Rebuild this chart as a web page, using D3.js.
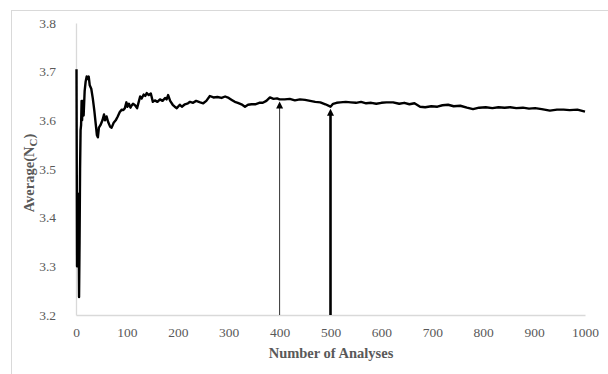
<!DOCTYPE html>
<html>
<head>
<meta charset="utf-8">
<script src="https://cdn.jsdelivr.net/npm/d3@7"></script>
<style>
body { margin: 0; background: #fff; }
svg { display: block; }
text { font-family: "Liberation Serif", "Times New Roman", serif; }
</style>
</head>
<body>
<svg width="608" height="374"></svg>
<script>
// number of analyses (x) and running average Nc (y)
var analyses = [1, 2, 3, 4, 5, 6, 7, 8, 9, 10, 11, 12, 13, 15, 17, 19, 21, 23, 25, 27, 30, 33, 36, 39, 41, 43, 45, 48, 52, 55, 57, 60, 63, 67, 70, 74, 78, 82, 86, 90, 93, 96, 99, 101, 104, 107, 109, 112, 116, 120, 123, 126, 129, 133, 136, 139, 143, 147, 151, 155, 160, 165, 170, 175, 178, 181, 185, 190, 194, 198, 204, 208, 214, 220, 224, 230, 236, 244, 250, 256, 263, 270, 278, 286, 293, 300, 306, 312, 318, 325, 332, 338, 345, 352, 360, 367, 374, 381, 388, 395, 400, 410, 420, 430, 440, 450, 460, 470, 480, 490, 500, 505, 512, 519, 530, 540, 550, 560, 570, 580, 590, 600, 610, 623, 635, 645, 655, 665, 676, 686, 698, 710, 720, 731, 742, 755, 768, 780, 792, 805, 818, 830, 842, 853, 865, 878, 890, 902, 915, 931, 945, 958, 970, 985, 1000];
var avgNc = [3.705, 3.30, 3.45, 3.31, 3.42, 3.237, 3.35, 3.50, 3.58, 3.59, 3.64, 3.60, 3.64, 3.61, 3.66, 3.68, 3.69, 3.685, 3.69, 3.672, 3.665, 3.645, 3.62, 3.59, 3.57, 3.565, 3.585, 3.59, 3.60, 3.612, 3.60, 3.608, 3.597, 3.587, 3.585, 3.595, 3.60, 3.608, 3.617, 3.622, 3.621, 3.625, 3.637, 3.628, 3.634, 3.626, 3.630, 3.634, 3.631, 3.625, 3.637, 3.649, 3.645, 3.653, 3.650, 3.656, 3.652, 3.655, 3.638, 3.641, 3.638, 3.643, 3.640, 3.646, 3.643, 3.652, 3.640, 3.632, 3.628, 3.625, 3.632, 3.628, 3.633, 3.635, 3.638, 3.636, 3.640, 3.637, 3.635, 3.640, 3.650, 3.647, 3.648, 3.646, 3.649, 3.646, 3.642, 3.638, 3.636, 3.633, 3.628, 3.632, 3.633, 3.633, 3.636, 3.636, 3.640, 3.647, 3.644, 3.645, 3.643, 3.643, 3.644, 3.641, 3.643, 3.642, 3.640, 3.638, 3.637, 3.633, 3.628, 3.634, 3.636, 3.637, 3.638, 3.637, 3.636, 3.638, 3.635, 3.636, 3.634, 3.636, 3.637, 3.637, 3.634, 3.636, 3.633, 3.635, 3.628, 3.627, 3.629, 3.628, 3.631, 3.632, 3.629, 3.630, 3.626, 3.623, 3.626, 3.627, 3.625, 3.627, 3.626, 3.627, 3.625, 3.626, 3.624, 3.625, 3.623, 3.620, 3.622, 3.622, 3.621, 3.622, 3.618];
var xTicks = [0, 100, 200, 300, 400, 500, 600, 700, 800, 900, 1000];
var yTicks = [3.2, 3.3, 3.4, 3.5, 3.6, 3.7, 3.8];
var arrowAt = [400, 500];
var arrowWidth = [1, 2.6];

var svg = d3.select("svg");

var x = d3.scaleLinear().domain([0, 1000]).range([76, 585]);
var y = d3.scaleLinear().domain([3.2, 3.8]).range([315, 23]);

// chart frame
svg.append("rect")
	.attr("x", 11.5).attr("y", 10.5)
	.attr("width", 620).attr("height", 400)
	.attr("fill", "none").attr("stroke", "#d9d9d9");

// axes
var xAxis = svg.append("g").attr("transform", "translate(0,315)")
	.call(d3.axisBottom(x).tickValues(xTicks).tickSize(0).tickPadding(12).tickFormat(d3.format("d")));
var yAxis = svg.append("g").attr("transform", "translate(76,0)")
	.call(d3.axisLeft(y).tickValues(yTicks).tickSize(0).tickPadding(20).tickFormat(d3.format(".1f")));

[xAxis, yAxis].forEach(function(a) {
	a.select(".domain").attr("stroke", "#d9d9d9").attr("stroke-width", 1.3);
	a.selectAll("text")
		.attr("fill", "#595959")
		.style("font-size", "13.5px")
		.style("font-family", "'Liberation Serif', 'Times New Roman', serif");
});

// the running average line
var pts = analyses.map(function(d, i) { return [d, avgNc[i]]; });
var line = d3.line()
	.x(function(d) { return x(d[0]); })
	.y(function(d) { return y(d[1]); });

svg.append("path")
	.datum(pts)
	.attr("d", line)
	.attr("fill", "none")
	.attr("stroke", "#000")
	.attr("stroke-width", 2.4)
	.attr("stroke-linejoin", "round");

// arrows from the axis up to the curve
function valueAt(n) {
	var i = d3.bisector(function(d) { return d[0]; }).left(pts, n);
	var a = pts[i - 1], b = pts[i];
	if (b[0] === n) return b[1];
	return a[1] + (b[1] - a[1]) * (n - a[0]) / (b[0] - a[0]);
}

arrowAt.forEach(function(n, k) {
	var tipY = y(valueAt(n)) + 2;
	var w = arrowWidth[k];
	svg.append("line")
		.attr("x1", x(n)).attr("x2", x(n))
		.attr("y1", 315).attr("y2", tipY + 6)
		.attr("stroke", k === 0 ? "#333" : "#000")
		.attr("stroke-width", w);
	svg.append("path")
		.attr("d", "M" + x(n) + "," + tipY + "L" + (x(n) - 3.5) + "," + (tipY + 7) + "L" + (x(n) + 3.5) + "," + (tipY + 7) + "Z")
		.attr("fill", "#000");
});

// axis titles
svg.append("text")
	.attr("x", 331).attr("y", 358)
	.attr("text-anchor", "middle")
	.attr("fill", "#595959")
	.style("font-size", "14.5px")
	.style("font-weight", "bold")
	.text("Number of Analyses");

var yt = svg.append("text")
	.attr("transform", "translate(34,173) rotate(-90)")
	.attr("text-anchor", "middle")
	.attr("fill", "#595959")
	.style("font-size", "14.5px")
	.style("font-weight", "bold");
yt.append("tspan").text("Average(N");
yt.append("tspan").attr("dy", 3).style("font-size", "11px").text("C");
yt.append("tspan").attr("dy", -3).text(")");
</script>
</body>
</html>
